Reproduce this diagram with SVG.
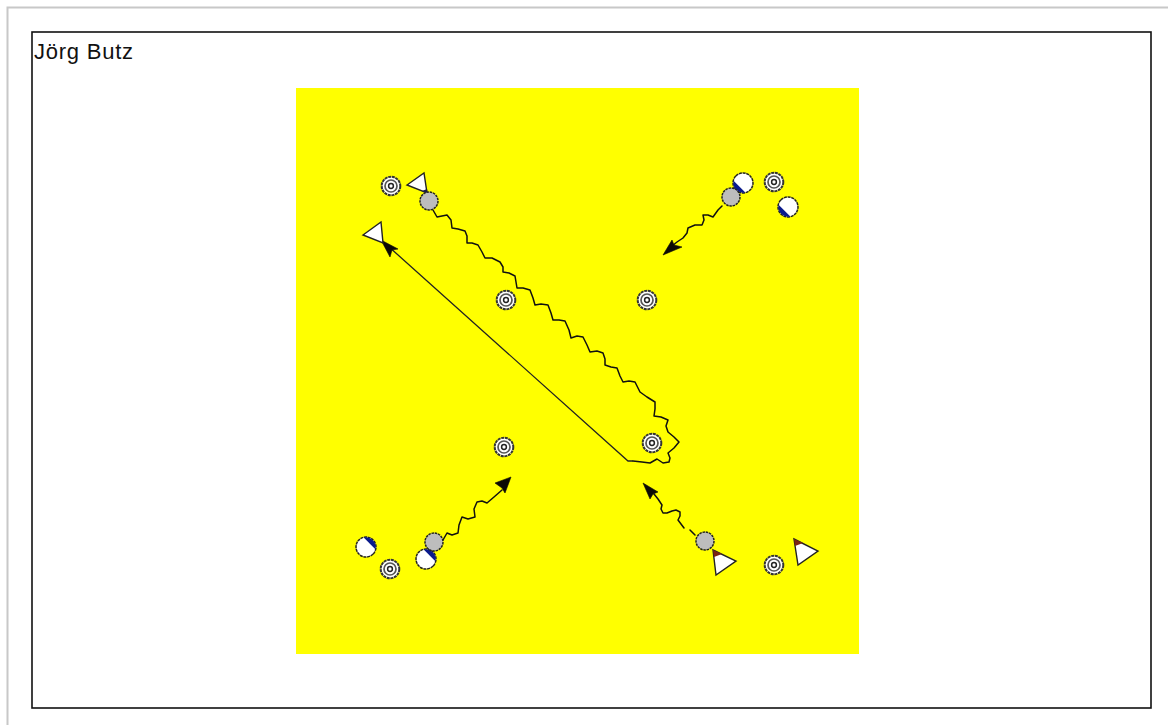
<svg xmlns="http://www.w3.org/2000/svg" width="1168" height="725" viewBox="0 0 1168 725">
<style>
.wave{fill:none;stroke:#111;stroke-width:1.5;stroke-linejoin:round;stroke-linecap:round}
.line{fill:none;stroke:#222;stroke-width:1.3}
.head{fill:#0c0a05;stroke:#0c0a05;stroke-width:.6}
.ball{fill:#bdbdbd;stroke:#222;stroke-width:1.5;stroke-dasharray:2.5 .8}
.disc{fill:#fff;stroke:#222;stroke-width:1.5;stroke-dasharray:3 .7}
.cap{fill:#0a1a8c}
.tri{fill:#fff;stroke:#222;stroke-width:1.4;stroke-linejoin:miter}
.apex{fill:#7a2410}
.apexd{fill:#1a1a40}
.r1{fill:#fff;stroke:#333;stroke-width:2;stroke-dasharray:3 .7}
.r2{fill:none;stroke:#555;stroke-width:1.7}
.r3{fill:#fff;stroke:#222;stroke-width:1.5}
text{font-family:"Liberation Sans",Arial,sans-serif;font-size:22px;fill:#111}
</style>
<defs>
<g id="target"><circle class="r1" r="9.3"/><circle class="r2" r="6"/><circle class="r3" r="2.4"/></g>
<g id="half"><circle class="disc" r="10"/><path class="cap" d="M-8.3,-5 A9.7,9.7 0 0 1 8.3,-5 Z"/></g>
</defs>
<rect width="1168" height="725" fill="#fff"/>
<path d="M7.500,725V7.500H1168" fill="none" stroke="#c8c8c8" stroke-width="2"/>
<rect x="32" y="32" width="1119" height="676" fill="#fff" stroke="#111" stroke-width="1.6"/>
<text id="title" x="34" y="59" textLength="99" lengthAdjust="spacing">Jörg Butz</text>
<rect id="field" x="296" y="88" width="563" height="566" fill="#ff0"/>
<g id="connectors">
<polyline class="wave" points="433,210 437,217 442,216 447,215 451,220 452,228 458,229 465,231 467,236 467,243 472,243 478,245 482,252 485,258 492,258 500,262 503,267 503,272 509,273 515,276 516,282 517,288 523,288 530,290 533,298 535,305 541,304 548,305 551,313 553,320 559,320 565,321 569,330 571,338 577,336 583,337 587,345 590,352 597,351 603,353 605,359 605,365 611,367 617,368 620,376 623,382 629,381 635,382 640,392 647,397 655,402 655,409 654,416 661,417 668,420 666,426 668,432 674,437 679,442 674,448 668,453 670,458 669,462 663,463 657,459 650,463 642,462 633,461"/>
<path class="line" d="M633,461 L628,461 L388,246"/>
<path class="head" d="M381,240 L398,249 L392,250 L390,257 Z"/>
<polyline class="wave" points="722,206 718,210 713,217 708,215 703,215 704,220 702,225 695,225 688,228 687,233 683,238 677,242 672,246"/>
<path class="head" d="M663,255 L672,240 L674,245 L682,247 Z"/>
<path class="wave" d="M695,535 L690,530 M684,528 L678,520 L680,516 L680,512 L676,510 L672,511 L667,513 L663,513 L661,509 L662,505 L658,499 L654,494"/>
<path class="head" d="M643,483 L658,492 L653,494 L650,499 Z"/>
<polyline class="wave" points="443,540 447,533 452,535 458,533 459,525 462,517 468,519 475,517 474,509 477,502 482,501 487,503 494,497 502,490"/>
<path class="head" d="M511,477 L505,493 L502,488 L495,483 Z"/>
</g>
<g id="t1"><use href="#target" x="391" y="186"/></g>
<g id="t2"><use href="#target" x="774" y="182"/></g>
<g id="t3"><use href="#target" x="647" y="300"/></g>
<g id="t4"><use href="#target" x="506" y="300"/></g>
<g id="t5"><use href="#target" x="652" y="443"/></g>
<g id="t6"><use href="#target" x="504" y="447"/></g>
<g id="t7"><use href="#target" x="390" y="569"/></g>
<g id="t8"><use href="#target" x="774" y="565"/></g>
<g id="p1"><path class="tri" d="M407,185 L424,173 L427,193 Z"/><path class="apexd" d="M422,191 L427,189 L428,194 Z"/></g>
<g id="b1"><circle class="ball" cx="429" cy="201" r="9"/></g>
<g id="p2"><path class="tri" d="M363,235 L381,222 L383,243 Z"/></g>
<g id="p3"><use href="#half" transform="translate(743 183) rotate(225)"/></g>
<g id="b2"><circle class="ball" cx="731" cy="197" r="9"/></g>
<g id="p4"><use href="#half" transform="translate(788 207) rotate(225)"/></g>
<g id="p5"><use href="#half" transform="translate(366 547) rotate(45)"/></g>
<g id="p6"><use href="#half" transform="translate(426 559) rotate(45)"/></g>
<g id="b3"><circle class="ball" cx="434" cy="542" r="9"/></g>
<g id="b4"><circle class="ball" cx="705" cy="541" r="9"/></g>
<g id="p7"><path class="tri" d="M713,550 L736,561 L716,575 Z"/><path class="apex" d="M713,550 L722,554 L714,557 Z"/></g>
<g id="p8"><path class="tri" d="M794,539 L818,551 L798,565 Z"/><path class="apex" d="M794,539 L803,543 L795,546 Z"/></g>
</svg>
